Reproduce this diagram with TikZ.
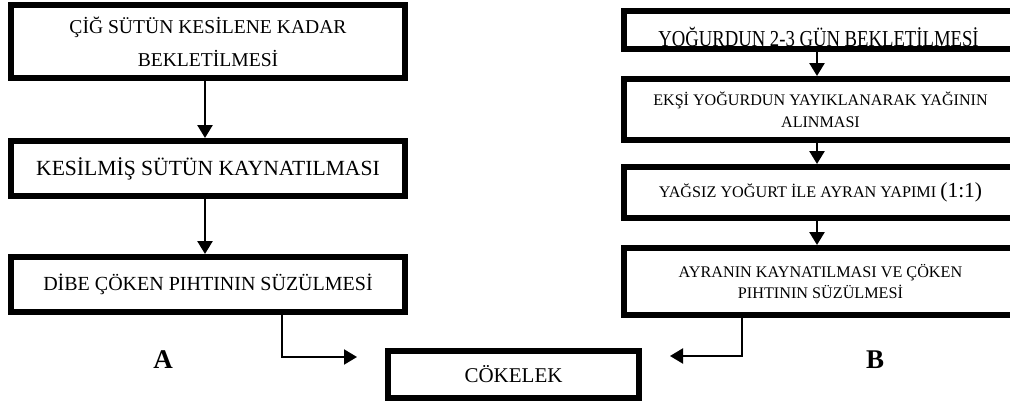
\documentclass[tikz,border=0pt]{standalone}
\usepackage{fontspec}
\setmainfont{Liberation Serif}
\usetikzlibrary{arrows.meta}
\begin{document}
\begin{tikzpicture}[x=1pt,y=-1pt,
  box/.style={draw, line width=6pt, rectangle, inner sep=0pt, align=center, font=\fontsize{20}{33}\selectfont},
  rbox/.style={box, minimum width=393pt, font=\fontsize{16.1}{22}\selectfont},
  arr/.style={line width=2.6pt, -{Triangle[width=15pt,length=13pt]}},
  lab/.style={font=\fontsize{27}{30}\selectfont\bfseries, inner sep=0pt, anchor=base}
]
\useasboundingbox (0,0) rectangle (1010,408);
\clip (0,0) rectangle (1010,408);
% left column
\node[box, minimum width=394pt, minimum height=73pt, font=\fontsize{19.6}{33}\selectfont] (L1) at (208,41.5) {ÇİĞ SÜTÜN KESİLENE KADAR\\BEKLETİLMESİ};
\node[box, minimum width=394pt, minimum height=55pt, font=\fontsize{21.6}{24}\selectfont] (L2) at (208,168.5) {KESİLMİŞ SÜTÜN KAYNATILMASI};
\node[box, minimum width=394pt, minimum height=55pt] (L3) at (208,284.5) {DİBE ÇÖKEN PIHTININ SÜZÜLMESİ};
% right column
\node[inner sep=0pt, anchor=base, font=\fontsize{18.7}{20}\selectfont] (R1t) at (818.5,46) {\scalebox{1}[1.22]{YOĞURDUN 2-3 GÜN BEKLETİLMESİ}};
\node[rbox, minimum height=38pt] (R1) at (820.5,30) {};
\node[rbox, minimum height=61pt] (R2) at (820.5,109.5) {EKŞİ YOĞURDUN YAYIKLANARAK YAĞININ\\ALINMASI};
\node[rbox, minimum height=51pt, font=\fontsize{16.2}{22}\selectfont] (R3) at (820.5,192.5) {YAĞSIZ YOĞURT İLE AYRAN YAPIMI {\fontsize{21.5}{22}\selectfont(1:1)}};
\node[rbox, minimum height=67pt, font=\fontsize{16.2}{21}\selectfont] (R4) at (820.5,281.5) {AYRANIN KAYNATILMASI VE ÇÖKEN\\PIHTININ SÜZÜLMESİ};
% result
\node[box, minimum width=251pt, minimum height=47pt, font=\fontsize{21}{22}\selectfont] (C) at (513.5,374.5) {CÖKELEK};
% labels
\node[lab] (A) at (163,368) {A};
\node[lab] (B) at (875,368) {B};
% arrows
\draw[arr] (L1.south -| 205,0) -- (L2.north -| 205,0);
\draw[arr] (L2.south -| 205,0) -- (L3.north -| 205,0);
\draw[arr] (R1.south -| 817,0) -- (R2.north -| 817,0);
\draw[arr] (R2.south -| 817,0) -- (R3.north -| 817,0);
\draw[arr] (R3.south -| 817,0) -- (R4.north -| 817,0);
\coordinate (ca) at (357,357);
\coordinate (cb) at (670,356);
\draw[arr, line width=2pt] (L3.south -| 282,0) |- (ca);
\draw[arr, line width=2pt] (R4.south -| 742,0) |- (cb);
\end{tikzpicture}
\end{document}
